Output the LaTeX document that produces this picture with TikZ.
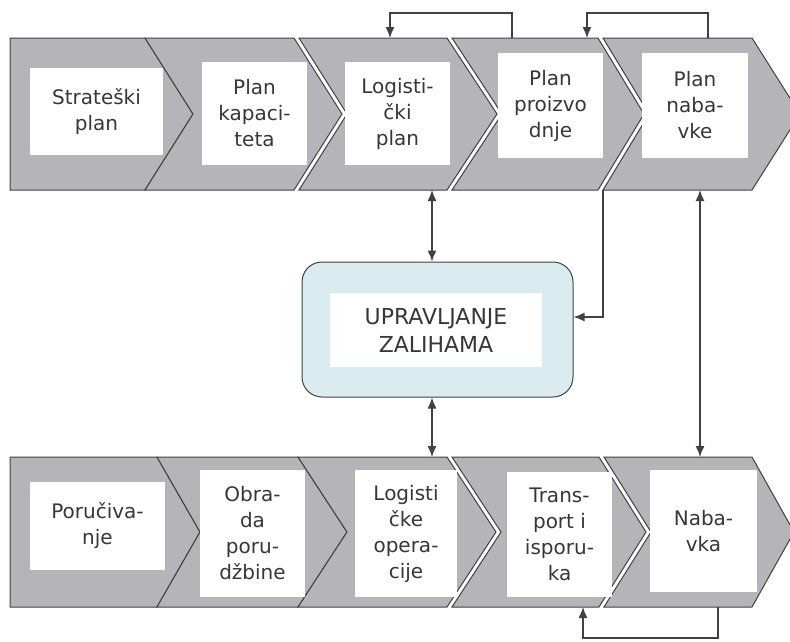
\documentclass[tikz,border=0pt]{standalone}
\usepackage{fontspec}
\setmainfont{DejaVu Sans}
\usetikzlibrary{arrows.meta,calc}
\definecolor{bandgray}{RGB}{181,181,185}
\definecolor{edgegray}{RGB}{65,65,65}
\definecolor{txtgray}{RGB}{55,55,55}
\definecolor{lightblue}{RGB}{218,236,240}
% #1=L #2=R #3=T #4=B #5=tip depth #6=notch depth
\newcommand{\mychev}[6]{%
  \pgfmathsetmacro{\chevmid}{(#3+#4)/2}%
  \filldraw[chevstyle] (#1,#3) -- (#2,#3) -- (#2+#5,\chevmid) -- (#2,#4) -- (#1,#4) -- (#1+#6,\chevmid) -- cycle;}
\begin{document}
\begin{tikzpicture}[x=1pt,y=-1pt,
  chevstyle/.style={fill=bandgray, draw=edgegray, line width=1pt, line join=miter},
  wbox/.style={fill=white, draw=none, inner sep=0pt, align=center,
    font=\fontsize{20}{26}\selectfont, text=txtgray},
  arr/.style={draw=edgegray, line width=1.4pt, -{Latex[length=11pt,width=9pt]}},
  darr/.style={draw=edgegray, line width=1.4pt, {Latex[length=11pt,width=9pt]}-{Latex[length=11pt,width=9pt]}},
]
\useasboundingbox (0,0) rectangle (790,641);
\clip (0,0) rectangle (790,641);

% top band
\mychev{10}{145}{38}{190}{48}{0}
\mychev{145}{294}{38}{190}{48}{48}
\mychev{299}{447}{38}{190}{50}{48}
\mychev{452}{598}{38}{190}{46}{50}
\mychev{603}{752}{38}{190}{48}{46}

% bottom band
\mychev{10}{157}{457}{607}{43}{0}
\mychev{157}{298}{457}{607}{49}{43}
\mychev{298}{447}{457}{607}{49}{49}
\mychev{452}{599}{457}{607}{47}{49}
\mychev{604}{752}{457}{607}{42}{47}

% top boxes
\node[wbox, minimum width=133pt, minimum height=87pt]  (s1) at (96.5,111.5) {Strateški\\plan};
\node[wbox, minimum width=105pt, minimum height=103pt] (s2) at (254.5,113.5) {Plan\\kapaci-\\teta};
\node[wbox, minimum width=105pt, minimum height=103pt] (s3) at (397.5,113.5) {Logisti-\\čki\\plan};
\node[wbox, minimum width=105pt, minimum height=105pt] (s4) at (550.5,105.5) {Plan\\proizvo\\dnje};
\node[wbox, minimum width=106pt, minimum height=105pt] (s5) at (695,105.5) {Plan\\naba-\\vke};

% bottom boxes
\node[wbox, minimum width=135pt, minimum height=88pt]  (b1) at (97.5,526) {Poručiva-\\nje};
\node[wbox, minimum width=105pt, minimum height=127pt] (b2) at (252.5,533.5) {Obra-\\da\\poru-\\džbine};
\node[wbox, minimum width=102pt, minimum height=127pt] (b3) at (406,533.5) {Logisti\\čke\\opera-\\cije};
\node[wbox, minimum width=105pt, minimum height=125pt] (b4) at (559.5,534.5) {Trans-\\port i\\isporu-\\ka};
\node[wbox, minimum width=107pt, minimum height=122pt] (b5) at (703.5,531) {Naba-\\vka};

% middle
\node[draw=edgegray, fill=lightblue, rounded corners=20pt, line width=1pt,
      minimum width=271pt, minimum height=135pt] (inv) at (437.5,329.5) {};
\node[wbox, minimum width=212pt, minimum height=74pt, font=\fontsize{22}{28}\selectfont]
      (invtext) at (436,330) {UPRAVLJANJE\\ZALIHAMA};

% connector anchors
\coordinate (t3b) at (432,190);
\coordinate (b3t) at (432,457);
\coordinate (t45b) at (603,190);
\coordinate (t5b) at (700,190);
\coordinate (b5t) at (700,457);
\coordinate (t4t) at (512,38);
\coordinate (t3t) at (390,38);
\coordinate (t5t) at (708,38);
\coordinate (t45t) at (587,38);
\coordinate (b5b) at (718,607);
\coordinate (b45b) at (583,607);

\draw[darr] (t3b) -- (t3b |- inv.north);
\draw[darr] (b3t |- inv.south) -- (b3t);
\draw[arr] (t45b) |- ([yshift=12.5pt]inv.east);
\draw[darr] (t5b) -- (b5t);
\draw[arr] (t4t) -- ++(0,-25) -| (t3t);
\draw[arr] (t5t) -- ++(0,-25) -| (t45t);
\draw[arr] (b5b) -- ++(0,31) -| (b45b);
\end{tikzpicture}
\end{document}
